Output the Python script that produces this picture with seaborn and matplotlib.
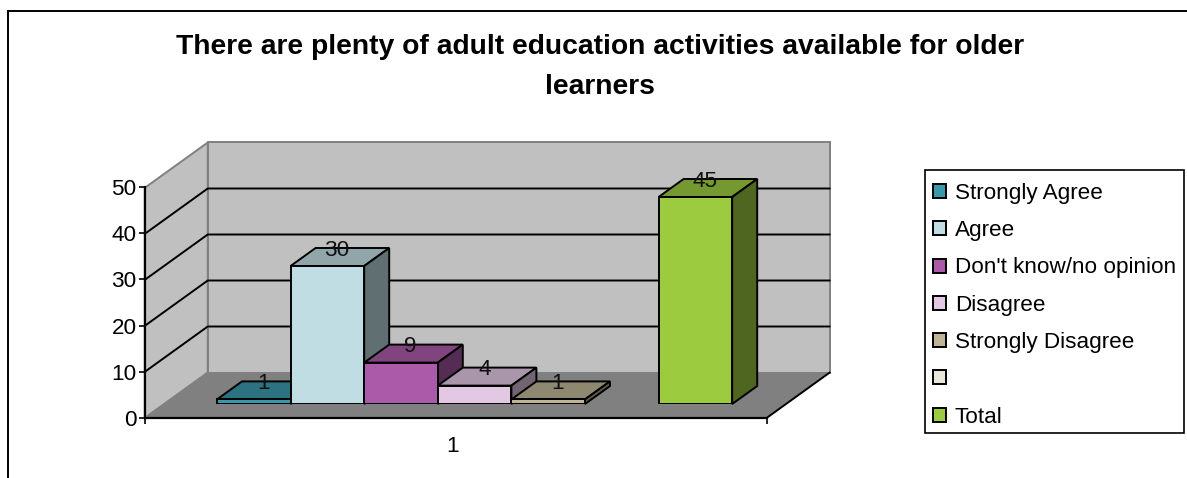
import numpy as np
import pandas as pd
import matplotlib
matplotlib.use("Agg")
import matplotlib.pyplot as plt
from matplotlib.colors import to_rgb
from matplotlib.patches import Polygon, Rectangle
import seaborn as sns

title = "There are plenty of adult education activities available for older\nlearners"
categories = ["Strongly Agree", "Agree", "Don't know/no opinion", "Disagree",
              "Strongly Disagree", " ", "Total"]
values = [1, 30, 9, 4, 1, np.nan, 45]
colors = ["#3A98AC", "#C0DDE4", "#AA5AA8", "#E3C8E3", "#BDB595", "#E8E6DA", "#9CCB40"]
y_ticks = [0, 10, 20, 30, 40, 50]
x_label = "1"

W, H = 1187, 478
sns.set_theme(style="white")
plt.rcParams["font.family"] = ["Liberation Sans", "DejaVu Sans"]
fig = plt.figure(figsize=(W / 100, H / 100), dpi=100)


def axes_from_pixels(left, right, top, bottom):
    return fig.add_axes([left / W, 1 - bottom / H, (right - left) / W, (bottom - top) / H])


# outer chart frame, runs off the right and bottom of the picture
fig.add_artist(Rectangle((8 / W, -0.1), 1.1, 1.1 - 11 / H, transform=fig.transFigure,
                         fill=False, edgecolor="black", linewidth=1.4))
# legend box is drawn by hand so the entries can sit lower inside it
fig.add_artist(Rectangle((925 / W, 1 - 433 / H), 259 / W, 263 / H, transform=fig.transFigure,
                         fill=False, edgecolor="black", linewidth=1.2))

# front plane of the fake 3d box holds the axis, bars sit a bit deeper
ax_front = axes_from_pixels(145, 767, 187, 418)
ax = axes_from_pixels(164, 786, 174, 404)

df = pd.DataFrame({"category": categories, "value": values})
sns.barplot(data=df, x="category", y="value", hue="category", order=categories,
            hue_order=categories, palette=dict(zip(categories, colors)), width=1,
            dodge=False, edgecolor="black", linewidth=1.4, saturation=1, legend=True, ax=ax)

bar_width = 73.6
x_lo = -0.5 - (217 - 164) / bar_width
ax.set_xlim(x_lo, x_lo + 622 / bar_width)
ax.set_ylim(0, 50)
ax.patch.set_visible(False)
ax.axis("off")

depth_x = 25 / bar_width
depth_y = 18 / 4.6
front = -0.77
back = 1.75


def pt(x, y, d=0.0):
    return (x + d * depth_x, y + d * depth_y)


x_left, x_right = ax.get_xlim()
wall_kw = dict(clip_on=False, zorder=0.1, edgecolor="#808080", linewidth=1.4)

# floor, side wall, back wall
ax.add_patch(Polygon([pt(x_left, 0, front), pt(x_right, 0, front), pt(x_right, 0, back),
                      pt(x_left, 0, back)], facecolor="#808080", edgecolor="none",
                     clip_on=False, zorder=0.1))
ax.add_patch(Polygon([pt(x_left, 0, front), pt(x_left, 50, front), pt(x_left, 50, back),
                      pt(x_left, 0, back)], facecolor="#C0C0C0", **wall_kw))
ax.add_patch(Polygon([pt(x_left, 0, back), pt(x_left, 50, back), pt(x_right, 50, back),
                      pt(x_right, 0, back)], facecolor="#C0C0C0", **wall_kw))
# right edge of the floor
ax.plot(*zip(pt(x_right, 0, front), pt(x_right, 0, back)), color="black", lw=1.4,
        clip_on=False, zorder=0.2)

for v in y_ticks[1:-1]:
    ax.plot(*zip(pt(x_left, v, front), pt(x_left, v, back), pt(x_right, v, back)),
            color="black", lw=1.4, clip_on=False, zorder=0.2)

# top and side faces, then the value above each bar
for i, (bar, v, c) in enumerate(zip(ax.containers, values, colors)):
    if np.isnan(v):
        continue
    rect = [p for p in bar if p.get_height() == p.get_height()][0]
    x0 = rect.get_x()
    x1 = x0 + rect.get_width()
    rgb = np.array(to_rgb(c))
    z = 1 + i
    rect.set_zorder(z + 0.2)
    ax.add_patch(Polygon([pt(x0, v), pt(x1, v), pt(x1, v, 1), pt(x0, v, 1)],
                         facecolor=rgb * 0.75, edgecolor="black", linewidth=1.4,
                         clip_on=False, zorder=z))
    ax.add_patch(Polygon([pt(x1, 0), pt(x1, v), pt(x1, v, 1), pt(x1, 0, 1)],
                         facecolor=rgb * 0.5, edgecolor="black", linewidth=1.4,
                         clip_on=False, zorder=z))
    ax.annotate(str(int(v)), (x0 + 0.5, v), xytext=(7, 11.5), textcoords="offset points",
                ha="center", va="center", fontsize=16.2, color="#111111", zorder=20,
                annotation_clip=False)

# front axis with the real tick labels
ax_front.set_zorder(ax.get_zorder() + 1)
ax_front.patch.set_visible(False)
ax_front.set_ylim(0, 50)
ax_front.set_yticks(y_ticks)
ax_front.set_xlim(0, 1)
ax_front.set_xticks([0, 1], ["", ""])
ax_front.set_xlabel(x_label, fontsize=16.2, labelpad=7.2, color="black", x=0.495)
ax_front.tick_params(axis="both", length=4, width=1.2, color="black", labelsize=16.2,
                     labelcolor="black", bottom=True, left=True, pad=2)
for side in ["top", "right"]:
    ax_front.spines[side].set_visible(False)
for side in ["left", "bottom"]:
    ax_front.spines[side].set_color("black")
    ax_front.spines[side].set_linewidth(1.6)

fig.text(600 / W, 1 - 67 / H, title, ha="center", va="center", fontsize=20.3,
         fontweight="bold", color="black", linespacing=1.7)

sns.move_legend(ax, loc="upper left", bbox_to_anchor=(925 / W, 1 - 175 / H),
                bbox_transform=fig.transFigure, title=None, frameon=False, fontsize=16.2,
                handlelength=0.58, handleheight=0.58, handletextpad=0.4,
                labelspacing=0.725, borderpad=0.35, borderaxespad=0,
                labelcolor="black")
leg = ax.get_legend()
leg.set_zorder(30)

fig.savefig("out.png", dpi=100)
